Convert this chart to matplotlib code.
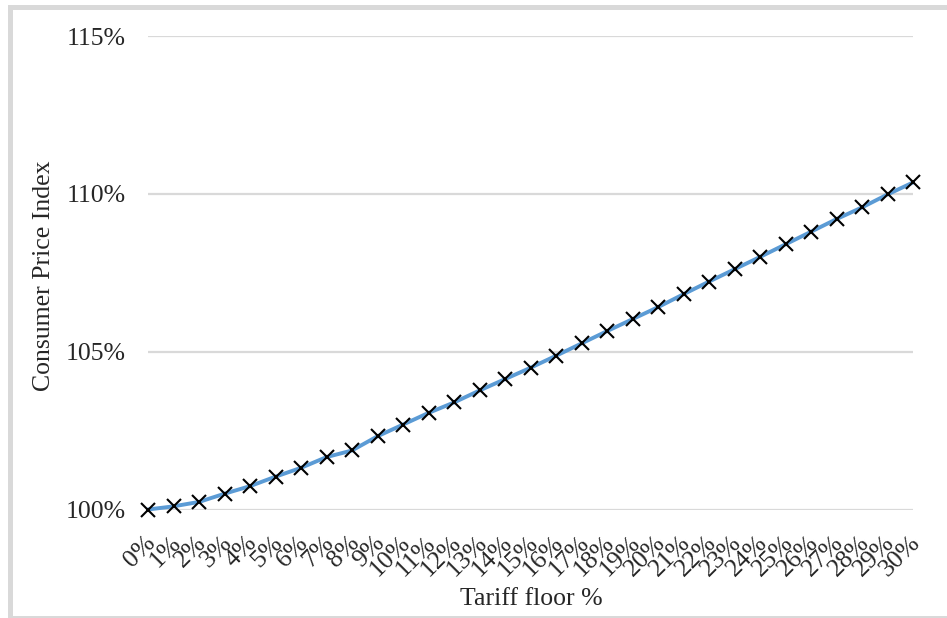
import matplotlib
matplotlib.use("Agg")
import matplotlib.pyplot as plt
from matplotlib.patches import Rectangle
from matplotlib.ticker import FuncFormatter
from matplotlib.transforms import ScaledTranslation

# Tariff floor levels (%) and resulting consumer price index (%)
tariff_floor = list(range(0, 31))
tick_labels = [f"{t}%" for t in tariff_floor]
cpi = [100.00, 100.10, 100.24, 100.50, 100.74, 101.04, 101.32, 101.66, 101.87, 102.32,
       102.69, 103.06, 103.39, 103.77, 104.13, 104.49, 104.87, 105.26, 105.65, 106.03,
       106.41, 106.82, 107.22, 107.61, 108.00, 108.40, 108.80, 109.20, 109.57, 109.98,
       110.36]
y_ticks = [100, 105, 110, 115]

W, H = 947, 618
fig = plt.figure(figsize=(W / 100, H / 100), dpi=100)
fig.patch.set_facecolor("white")

font = "Liberation Serif"
fs = 18.5
txt_color = "#262626"

ax = fig.add_axes([148 / W, (H - 509.5) / H, (913 - 148) / W, (509.5 - 36) / H])
ax.set_xlim(0, 30)
ax.set_ylim(100, 115)

ax.plot(tariff_floor, cpi, color="#5B9BD5", lw=2.8, solid_joinstyle="round",
        solid_capstyle="round", zorder=3, clip_on=False)
ax.plot(tariff_floor, cpi, linestyle="none", marker="x", markersize=9.5,
        markeredgewidth=1.5, color="black", zorder=4, clip_on=False)

ax.set_yticks(y_ticks)
ax.yaxis.set_major_formatter(FuncFormatter(lambda v, p: f"{v:.0f}%"))
ax.grid(axis="y", color="#d9d9d9", lw=1.6, zorder=0)
ax.set_axisbelow(True)
for s in ax.spines.values():
    s.set_visible(False)

ax.set_xticks(tariff_floor)
ax.set_xticklabels(tick_labels, rotation=45, ha="right", va="center",
                   rotation_mode="anchor", fontfamily=font, fontsize=fs,
                   color=txt_color)
ax.tick_params(axis="x", length=0, pad=13)
ax.tick_params(axis="y", length=0, pad=15.8)
shift = ScaledTranslation(4 / 100, -12 / 100, fig.dpi_scale_trans)
for lbl in ax.get_xticklabels():
    lbl.set_transform(lbl.get_transform() + shift)
for lbl in ax.get_yticklabels():
    lbl.set_fontfamily(font)
    lbl.set_fontsize(fs)
    lbl.set_color(txt_color)

fig.text(531 / W, 1 - 599 / H, "Tariff floor %", ha="center", va="center",
         fontfamily=font, fontsize=fs, color=txt_color)
fig.text(44 / W, 1 - 276 / H, "Consumer Price Index", ha="center", va="center",
         rotation=90, fontfamily=font, fontsize=fs, color=txt_color)

# Chart-area frame
fig.patches.append(Rectangle((9.5, H - 617.5), 1000, 611, transform=None,
                             fill=False, edgecolor="#d9d9d9", lw=3.6))

fig.savefig("out.png", dpi=100, facecolor="white")
